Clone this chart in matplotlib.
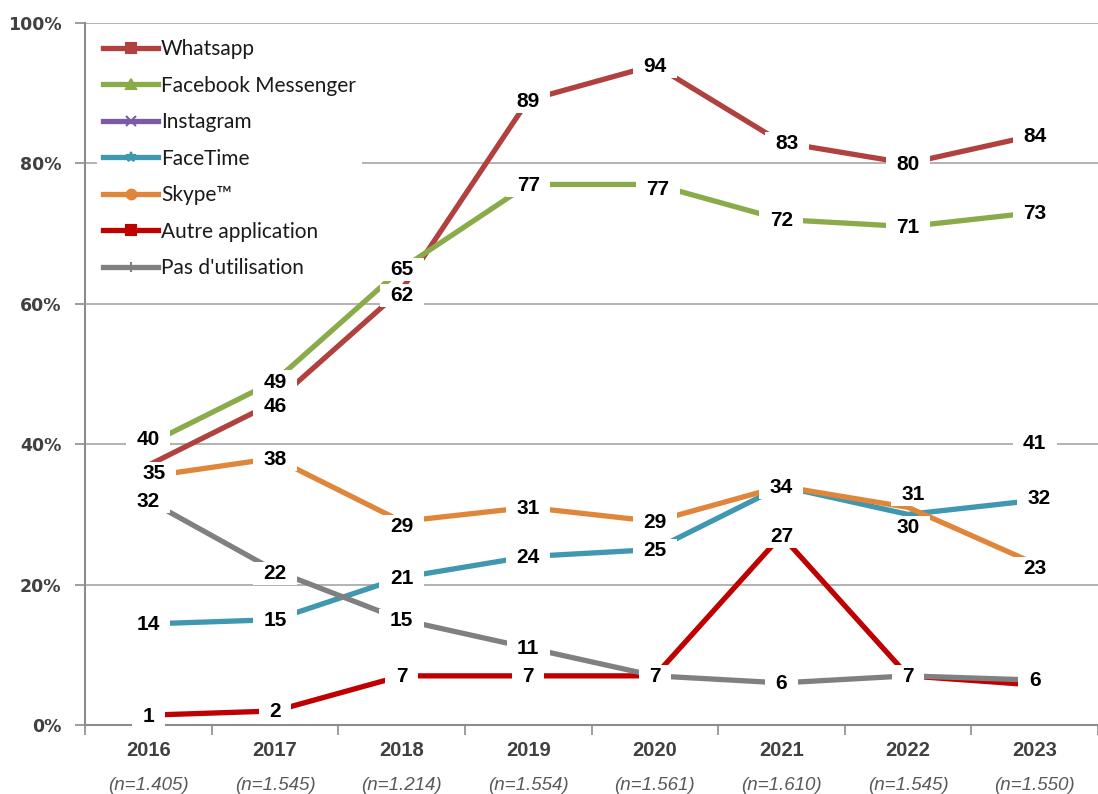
import numpy as np
import matplotlib
matplotlib.use("Agg")
import matplotlib.pyplot as plt
from matplotlib.lines import Line2D
from matplotlib.path import Path
from matplotlib.transforms import blended_transform_factory
import matplotlib.ticker as mticker

# ---------------- data ----------------
years = ["2016", "2017", "2018", "2019", "2020", "2021", "2022", "2023"]
sample_sizes = ["(n=1.405)", "(n=1.545)", "(n=1.214)", "(n=1.554)",
                "(n=1.561)", "(n=1.610)", "(n=1.545)", "(n=1.550)"]
series_names = ["Whatsapp", "Facebook Messenger", "Instagram", "FaceTime",
                "Skype™", "Autre application", "Pas d'utilisation"]
whatsapp = [37, 46, 62, 89, 94, 83, 80, 84]
messenger = [40, 49, 65, 77, 77, 72, 71, 73]
instagram = [np.nan, np.nan, np.nan, np.nan, np.nan, np.nan, np.nan, 41]
facetime = [14.4, 15, 21, 24, 25, 34, 30, 32]
skype = [35.4, 38, 29, 31, 29, 34, 31, 23]
autre = [1.4, 2, 7, 7, 7, 27, 7, 5.7]
pas_utilisation = [32, 22, 15, 11, 7, 6, 7, 6.4]
values = [whatsapp, messenger, instagram, facetime, skype, autre, pas_utilisation]

# ---------------- styles ----------------
colors = ["#B0413E", "#8AAB4A", "#7B5AA6", "#3F97B0", "#E0863A", "#C00000", "#808080"]
markers = ["s", "^", "x", "*", "o", "s", "+"]
# labels that are hidden (overlapping another one)
hidden = {(0, 0), (4, 5), (6, 4), (6, 6), (5, 7)}
# label offsets in pixels (dx, dy up)
offsets = {(1, 0): (0, 6), (4, 0): (6, 4), (0, 1): (0, -3), (0, 2): (0, -5),
           (1, 4): (3, -4), (3, 6): (0, -12), (4, 6): (5, 14), (4, 2): (0, -4),
           (4, 7): (0, -4), (2, 7): (0, -5), (0, 5): (6, 0), (3, 7): (4, 3),
           (6, 1): (0, -2), (6, 7): (0, 1)}

W, H, DPI = 1098, 794, 100
fig = plt.figure(figsize=(W / DPI, H / DPI), dpi=DPI)
ax = fig.add_axes([85 / W, 69 / H, (W - 85) / W, (725 - 23) / H])

x = np.arange(len(years))
for i, (name, vals) in enumerate(zip(series_names, values)):
    ax.plot(x, vals, color=colors[i], lw=3.8, solid_capstyle="butt", zorder=3)

ax.set_xlim(-0.5, -0.5 + (W - 85) / 128.0)
ax.set_ylim(0, 100)

# grid
ax.yaxis.set_major_locator(mticker.MultipleLocator(20))
ax.yaxis.set_major_formatter(mticker.FuncFormatter(lambda v, p: f"{int(v)}%"))
ax.grid(axis="y", color="#A6A6A6", lw=1.2, zorder=0)
ax.set_axisbelow(True)
for s in ["top", "right"]:
    ax.spines[s].set_visible(False)
for s in ["left", "bottom"]:
    ax.spines[s].set_color("#8C8C8C")
    ax.spines[s].set_linewidth(1.5)

ax.tick_params(axis="y", length=7, width=1.2, color="#8C8C8C", pad=10,
               labelsize=12.5, labelcolor="#404040")
for lab in ax.get_yticklabels():
    lab.set_fontfamily("DejaVu Sans")
    lab.set_fontweight("bold")

ax.set_xticks(x)
ax.set_xticklabels([])
ax.set_xticks(np.arange(-0.5, len(years), 1.0), minor=True)
ax.tick_params(axis="x", which="major", length=0)
ax.tick_params(axis="x", which="minor", length=7, width=1.2, color="#8C8C8C")

trans = blended_transform_factory(ax.transData, ax.transAxes)
for i, (yr, n) in enumerate(zip(years, sample_sizes)):
    ax.annotate(yr, (i, 0), xycoords=trans, xytext=(0, -26 * 72 / DPI),
                textcoords="offset points", ha="center", va="center",
                fontsize=14.5, fontweight="bold", color="#404040",
                family="Liberation Sans", annotation_clip=False)
    ax.annotate(n, (i, 0), xycoords=trans, xytext=(0, -61 * 72 / DPI),
                textcoords="offset points", ha="center", va="center",
                fontsize=13.5, fontstyle="italic", color="#595959",
                family="Liberation Sans", annotation_clip=False)


def label_box(x0, y0, width, height, mutation_size):
    padx = 0.5 * mutation_size
    pady = 0.1 * mutation_size
    x0, y0 = x0 - padx, y0 - pady
    x1, y1 = x0 + width + 2 * padx, y0 + height + 2 * pady
    return Path([(x0, y0), (x1, y0), (x1, y1), (x0, y1), (x0, y0)], closed=True)


for i, vals in enumerate(values):
    for j, v in enumerate(vals):
        if np.isnan(v) or (i, j) in hidden:
            continue
        dx, dy = offsets.get((i, j), (0, 0))
        ax.annotate(f"{int(round(v))}", (j, v),
                    xytext=(dx * 72 / DPI, (dy - 1) * 72 / DPI),
                    textcoords="offset points", ha="center", va="center",
                    fontsize=15, fontweight="bold", color="black",
                    family="Liberation Sans", zorder=5,
                    bbox=dict(boxstyle=label_box, fc="white", ec="none"))

handles = [Line2D([0], [0], color=c, lw=3.8, marker=m, markersize=7,
                  markeredgewidth=1.5, markerfacecolor=c, markeredgecolor=c)
           for c, m in zip(colors, markers)]
leg = ax.legend(handles, series_names, loc="upper left",
                bbox_to_anchor=(12 / (W - 85), (725 - 33) / (725 - 23)),
                frameon=True, fancybox=False, edgecolor="none", framealpha=1,
                handlelength=2.65, handletextpad=0.12, labelspacing=0.79,
                borderpad=0.3, borderaxespad=0,
                prop={"family": "Lato", "size": 15})
leg.get_frame().set_facecolor("white")
for t in leg.get_texts():
    t.set_color("#1a1a1a")
leg.set_zorder(4)

fig.savefig("out.png", dpi=DPI)
